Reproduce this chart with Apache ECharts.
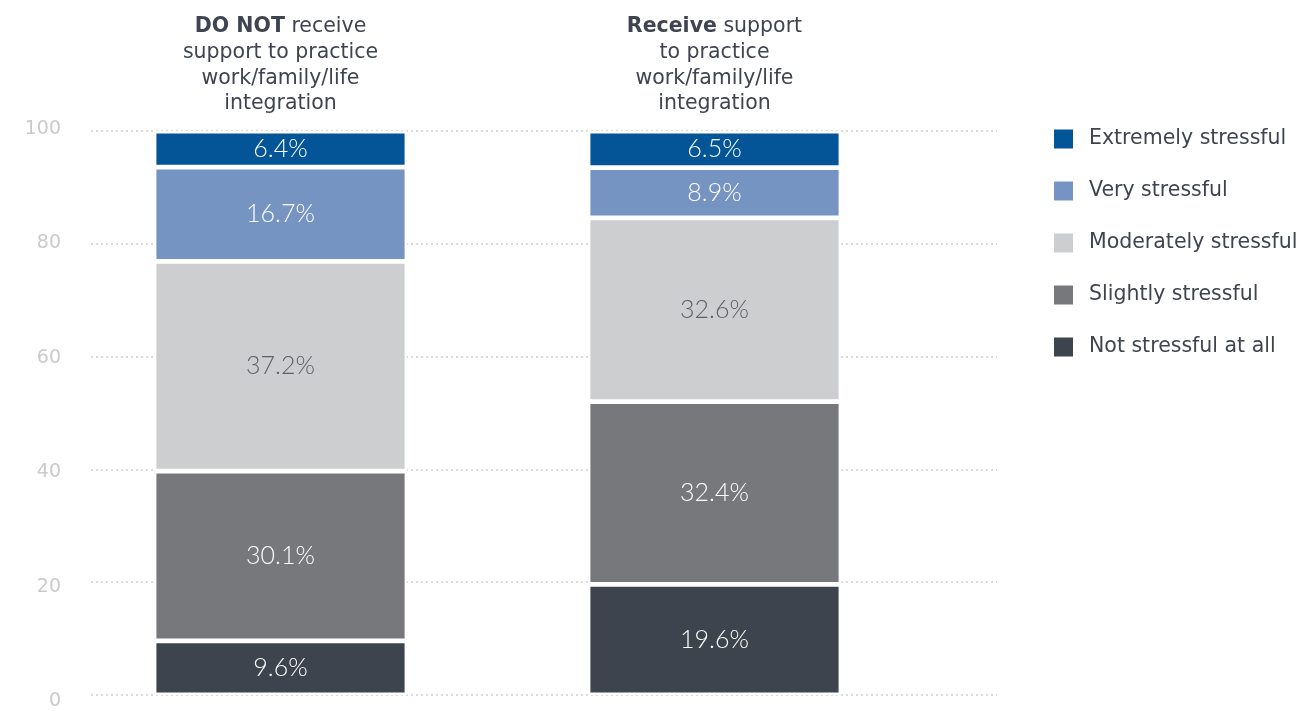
<!DOCTYPE html>
<html>
<head>
<meta charset="utf-8">
<script src="https://cdn.jsdelivr.net/npm/echarts@6/dist/echarts.min.js"></script>
<style>
  html, body { margin: 0; padding: 0; background: #fff; }
  #chart { width: 1302px; height: 711px; }
</style>
</head>
<body>
<div id="chart"></div>
<script>
var categories = [
    '{b|DO NOT} receive\nsupport to practice\nwork/family/life\nintegration',
    '{b|Receive} support\nto practice\nwork/family/life\nintegration'
];
var seriesNames = ['Not stressful at all', 'Slightly stressful', 'Moderately stressful', 'Very stressful', 'Extremely stressful'];
var notStressful = [9.6, 19.6];
var slightly = [30.1, 32.4];
var moderately = [37.2, 32.6];
var very = [16.7, 8.9];
var extremely = [6.4, 6.5];
var yTicks = [0, 20, 40, 60, 80, 100];

var colors = ['#3e444e', '#77787c', '#cdced0', '#7694c2', '#035598'];
var labelColors = ['#ffffff', '#ffffff', '#5b6068', '#ffffff', '#ffffff'];
var values = [notStressful, slightly, moderately, very, extremely];

var chart = echarts.init(document.getElementById('chart'));

var series = seriesNames.map(function (name, i) {
    return {
        name: name,
        type: 'bar',
        stack: 'total',
        xAxisIndex: 1,
        yAxisIndex: 1,
        barWidth: 253,
        data: values[i],
        itemStyle: {
            color: colors[i],
            borderColor: '#ffffff',
            borderWidth: 2.4
        },
        label: {
            show: true,
            position: 'inside',
            color: labelColors[i],
            fontFamily: 'Lato',
            fontWeight: 300,
            fontSize: 25,
            formatter: function (p) { return p.value.toFixed(1) + '%'; }
        }
    };
});

var option = {
    animation: false,
    backgroundColor: '#ffffff',
    legend: {
        data: seriesNames.slice().reverse(),
        orient: 'vertical',
        left: 1052,
        top: 126,
        padding: 0,
        itemWidth: 21,
        itemHeight: 21,
        itemGap: 26,
        icon: 'rect',
        textStyle: {
            color: '#3f4450',
            fontFamily: 'DejaVu Sans',
            fontSize: 20.5,
            lineHeight: 26,
            padding: [0, 0, 0, 10]
        }
    },
    grid: [
        // dotted grid lines
        { left: 91, top: 131, width: 906, height: 564 },
        // bars
        { left: 63.5, top: 131, width: 868, height: 564 },
        // y labels
        { left: 91, top: 128.8, width: 906, height: 574.5 }
    ],
    xAxis: [
        { type: 'category', gridIndex: 0, data: ['a'], show: false },
        {
            type: 'category', gridIndex: 1, data: categories, position: 'top',
            axisLine: { show: false }, axisTick: { show: false },
            axisLabel: {
                margin: 14,
                color: '#3f4450',
                fontFamily: 'DejaVu Sans',
                fontSize: 20.5,
                lineHeight: 25.7,
                align: 'center',
                rich: {
                    b: { fontWeight: 'bold', fontFamily: 'DejaVu Sans', fontSize: 20.5, lineHeight: 25.7, color: '#3f4450' }
                }
            }
        },
        { type: 'category', gridIndex: 2, data: ['a'], show: false }
    ],
    yAxis: [
        {
            type: 'value', gridIndex: 0, min: 0, max: 100, interval: 20,
            axisLabel: { show: false }, axisLine: { show: false }, axisTick: { show: false },
            splitLine: { lineStyle: { color: '#d0d0d0', width: 1.5, type: [2, 3] } }
        },
        {
            type: 'value', gridIndex: 1, min: 0, max: 100, interval: 20,
            axisLabel: { show: false }, axisLine: { show: false }, axisTick: { show: false },
            splitLine: { show: false }
        },
        {
            type: 'value', gridIndex: 2, min: 0, max: 100, interval: 20,
            axisLine: { show: false }, axisTick: { show: false },
            splitLine: { show: false },
            axisLabel: {
                margin: 30,
                color: '#c9cacb',
                fontFamily: 'DejaVu Sans',
                fontSize: 19,
                formatter: function (v) { return yTicks.indexOf(v) >= 0 ? String(v) : ''; }
            }
        }
    ],
    series: series
};

chart.setOption(option);
window.addEventListener('resize', function () {
    chart.resize();
});
</script>
</body>
</html>
